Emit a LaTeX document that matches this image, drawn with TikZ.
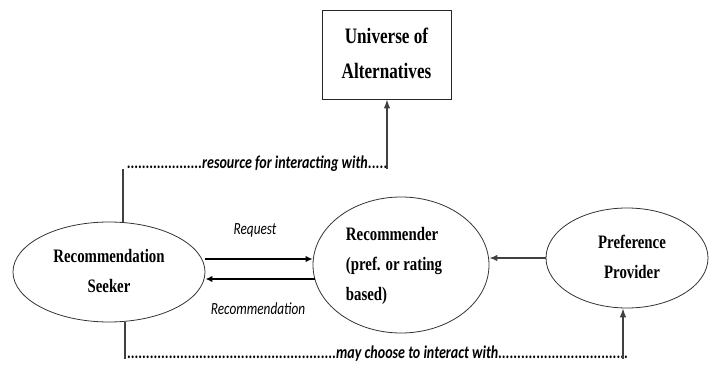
\documentclass[tikz,border=0pt]{standalone}
\usepackage{fontspec}
\usepackage{graphicx}
\setmainfont{Liberation Serif}
\newfontfamily\calfont{Carlito}
\usetikzlibrary{arrows.meta,calc,shapes.geometric}
\newcommand{\nt}[4]{\scalebox{0.78}[1]{\fontsize{#2}{#3}\selectfont\bfseries\begin{tabular}{@{}#1@{}}#4\end{tabular}}}
\newcommand{\lbl}[1]{\scalebox{0.78}[1]{\fontsize{17}{20}\selectfont\calfont\itshape #1}}
\newcommand{\blbl}[1]{\scalebox{0.78}[1]{\fontsize{18}{20}\selectfont\calfont\bfseries\itshape #1}}
\newcommand{\dotrun}[1]{\hbox to #1{\xleaders\hbox{\blbl{.}}\hfill}}
\tikzset{
  bubble/.style={ellipse, draw=black!80, line width=0.8pt, inner sep=0pt},
  altbox/.style={rectangle, draw=black!85, line width=0.9pt, inner sep=0pt, minimum width=129pt, minimum height=89pt},
  thinarr/.style={draw=black!75, line width=1.1pt, -{Latex[length=9pt,width=6.5pt]}},
  thinline/.style={draw=black!75, line width=1.1pt},
  boldarr/.style={draw=black, line width=1.7pt, -{Latex[length=7pt,width=6.5pt]}},
  midarr/.style={draw=black!75, line width=1.4pt, -{Latex[length=8pt,width=6.5pt]}},
  dotlabel/.style={inner sep=0pt, anchor=base west}
}
\begin{document}
\begin{tikzpicture}[x=1pt,y=-1pt]
\useasboundingbox (0,0) rectangle (710,366);
% nodes
\node[altbox] (alt) at (386.5,54.5) {\nt{c}{22}{35}{Universe of\\Alternatives}};
\node[bubble, minimum width=192pt, minimum height=100pt] (seeker) at (109,272) {\nt{c}{19}{30}{Recommendation\\Seeker}};
\node[bubble, minimum width=176pt, minimum height=136pt] (rec) at (401,265) {\nt{l}{19}{30}{Recommender\\(pref. or rating\\based)}\hspace*{14pt}};
\node[bubble, minimum width=162pt, minimum height=100pt] (prov) at (627,258) {\hspace*{10pt}\nt{c}{19}{30}{Preference\\Provider}};
% top route
\coordinate (tl) at (123,169);
\coordinate (tr) at (387,169);
\node[dotlabel] (toptext) at (127,169) {\dotrun{75pt}\blbl{resource for interacting with}\dotrun{20pt}};
\draw[thinline] (seeker.north -| tl) -- (tl);
\draw[thinarr] (tr) -- (alt.south -| tr);
% bottom route
\coordinate (bl) at (125,359);
\coordinate (br) at (623,359);
\node[dotlabel] (bottext) at (127,358) {\dotrun{209pt}\blbl{may choose to interact with}\dotrun{130pt}};
\draw[thinline] (seeker.south -| bl) -- (bl);
\draw[thinarr] (br) -- (prov.south -| br);
% request / recommendation
\coordinate (rq) at ($(seeker.east)+(0,-13)$);
\coordinate (rc) at ($(seeker.east)+(0,7)$);
\draw[boldarr] (rq) -- (rq -| rec.west);
\draw[boldarr] ($(rc -| rec.west)+(2,0)$) -- (rc);
\node (reqlbl) at (255,230) {\lbl{Request}};
\node (reclbl) at (258,309) {\lbl{Recommendation}};
% provider to recommender
\draw[midarr] (prov.west) -- (prov.west -| rec.east);
\end{tikzpicture}
\end{document}
